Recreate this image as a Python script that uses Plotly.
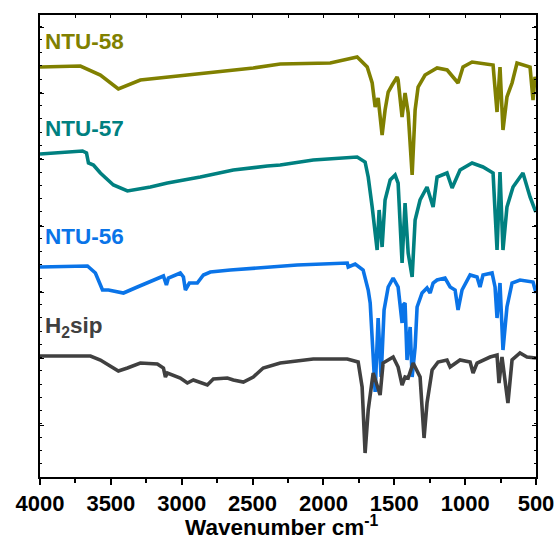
import plotly.graph_objects as go

# ---- data (wavenumber cm-1, offset transmittance a.u.) ----
ntu58_wn = [4000, 3715, 3574, 3447, 3292, 3010, 2777, 2495, 2305, 1952, 1762, 1691, 1656, 1635,
            1614, 1586, 1565, 1543, 1515, 1480, 1473, 1445, 1424, 1402, 1374, 1353, 1332, 1283,
            1198, 1127, 1050, 1015, 951, 803, 775, 754, 733, 705, 669, 634, 542, 521, 507, 500]
ntu58_t = [410, 411, 402, 388, 397, 401, 405, 409, 413, 414, 420, 410, 394, 370,
           379, 342, 367, 385, 392, 400, 397, 360, 384, 364, 302, 367, 390, 402,
           409, 407, 394, 410, 415, 412, 365, 410, 347, 380, 394, 414, 410, 377, 400, 397]

ntu57_wn = [4000, 3700, 3672, 3658, 3623, 3574, 3482, 3383, 3221, 3101, 2869, 2636, 2396, 2305,
            2072, 1762, 1706, 1684, 1656, 1621, 1607, 1586, 1565, 1529, 1494, 1473, 1445, 1424,
            1402, 1374, 1353, 1318, 1269, 1226, 1198, 1128, 1092, 1036, 951, 874, 803, 775,
            754, 733, 705, 662, 592, 542, 507, 500]
ntu57_t = [323, 326, 324, 314, 312, 304, 292, 286, 290, 294, 300, 307, 311, 312,
           317, 320, 315, 300, 270, 227, 267, 230, 277, 297, 302, 294, 214, 274,
           224, 200, 257, 277, 290, 270, 300, 304, 289, 307, 314, 310, 304, 227,
           305, 227, 270, 290, 304, 280, 267, 265]

ntu56_wn = [4000, 3665, 3609, 3559, 3517, 3411, 3313, 3151, 3129, 3108, 3094, 3010, 2988, 2974,
            2946, 2890, 2847, 2798, 2657, 2185, 1861, 1832, 1825, 1776, 1720, 1684, 1670, 1635,
            1614, 1593, 1572, 1543, 1508, 1473, 1445, 1438, 1424, 1410, 1388, 1374, 1353, 1339,
            1304, 1269, 1247, 1226, 1198, 1142, 1106, 1071, 1050, 1022, 965, 916, 895, 874,
            810, 789, 775, 754, 733, 705, 669, 613, 521, 500]
ntu56_t = [210, 211, 204, 187, 187, 184, 190, 199, 201, 192, 199, 204, 200, 187,
           194, 194, 202, 205, 207, 212, 214, 214, 210, 213, 207, 187, 174, 85,
           159, 100, 167, 190, 199, 190, 154, 172, 174, 117, 150, 100, 130, 170,
           184, 189, 184, 194, 197, 199, 190, 187, 167, 187, 202, 200, 190, 202,
           204, 190, 159, 194, 127, 170, 194, 197, 195, 184]

h2sip_wn = [4000, 3644, 3574, 3447, 3383, 3292, 3172, 3129, 3115, 3101, 3010, 2960, 2918, 2819,
            2777, 2678, 2636, 2565, 2495, 2425, 2305, 2072, 1832, 1755, 1727, 1706, 1684, 1649,
            1600, 1579, 1508, 1473, 1445, 1424, 1402, 1367, 1318, 1290, 1269, 1233, 1191, 1128,
            1106, 1036, 965, 944, 916, 824, 775, 761, 740, 698, 669, 613, 564, 507, 500]
h2sip_t = [121, 121, 117, 106, 109, 114, 113, 109, 100, 104, 99, 94, 97, 92,
           98, 99, 97, 95, 100, 109, 114, 118, 118, 115, 90, 24, 67, 104,
           82, 114, 120, 110, 92, 100, 99, 114, 100, 39, 74, 107, 115, 117,
           110, 117, 115, 104, 114, 120, 122, 94, 120, 74, 117, 124, 120, 119, 119]

labels = ["NTU-58", "NTU-57", "NTU-56", "H<sub>2</sub>sip"]
label_y = [436, 349, 241, 150]
colors = ["#808000", "#008080", "#0A74E8", "#404040"]
series = [(ntu58_wn, ntu58_t), (ntu57_wn, ntu57_t), (ntu56_wn, ntu56_t), (h2sip_wn, h2sip_t)]
x_ticks = [4000, 3500, 3000, 2500, 2000, 1500, 1000, 500]
x_title = "Wavenumber cm<sup>-1</sup>"

FONT = "Liberation Sans, Arial, sans-serif"

fig = go.Figure()
for (wn, t), c in zip(series, colors):
    fig.add_trace(go.Scatter(x=wn, y=t, mode="lines",
                             line=dict(color=c, width=3.6), showlegend=False))
# invisible trace for the top mirror axis
fig.add_trace(go.Scatter(x=[4000, 500], y=[0, 0], xaxis="x2", mode="lines",
                         line=dict(width=0), hoverinfo="skip", showlegend=False))

for txt, y, c in zip(labels, label_y, colors):
    fig.add_annotation(x=4000, y=y, xref="x", yref="y", text=txt, showarrow=False,
                       xanchor="left", yanchor="middle", xshift=3,
                       font=dict(family=FONT, size=22.5, color=c, weight="bold"))

# x-axis title
fig.add_annotation(x=0.487, y=-0.107, xref="paper", yref="paper", text=x_title,
                   showarrow=False, xanchor="center", yanchor="middle",
                   font=dict(family=FONT, size=22.5, color="black", weight="bold"))

fig.update_layout(
    width=556, height=541,
    margin=dict(l=40, r=20, t=15, b=64, autoexpand=False),
    paper_bgcolor="white", plot_bgcolor="white",
    font=dict(family=FONT, color="black"),
    xaxis=dict(range=[4000, 500], tickvals=x_ticks, ticks="outside", ticklen=6,
               tickwidth=1.5, tickcolor="black", automargin=False,
               minor=dict(dtick=250, tick0=0, ticks="outside", ticklen=4, tickwidth=1.5,
                          tickcolor="black"),
               showline=True, linecolor="black", linewidth=2, showgrid=False, zeroline=False,
               tickfont=dict(family=FONT, size=22, color="black", weight="bold")),
    xaxis2=dict(range=[4000, 500], overlaying="x", side="top", anchor="y", automargin=False,
                tickvals=x_ticks, ticks="inside", ticklen=3, tickwidth=1, tickcolor="black",
                minor=dict(dtick=250, tick0=0, ticks="inside", ticklen=3, tickwidth=1,
                           tickcolor="black"),
                showticklabels=False, showline=True, linecolor="black", linewidth=2,
                showgrid=False, zeroline=False),
    yaxis=dict(range=[0, 462], showticklabels=False, ticks="inside", ticklen=4,
               tick0=52, dtick=66.3, tickwidth=1, tickcolor="black", automargin=False,
               minor=dict(dtick=13.26, ticks="inside", ticklen=2, tickwidth=1,
                          tickcolor="black"),
               mirror="ticks", showline=True, linecolor="black", linewidth=2,
               showgrid=False, zeroline=False),
)

fig.write_html("out.html")
